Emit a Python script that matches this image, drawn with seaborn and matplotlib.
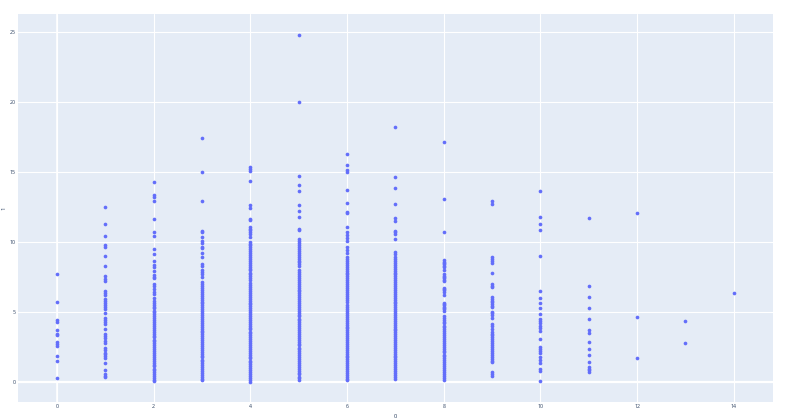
import pandas as pd
import matplotlib
matplotlib.use("Agg")
import matplotlib.pyplot as plt
import seaborn as sns

# valeurs y par colonne x
y_0 = [7.76, 5.71, 4.43, 4.33, 3.74, 3.43, 3.36, 2.86, 2.76, 2.61, 1.86, 1.54, 0.29]
y_1 = [12.54, 11.33, 10.45, 9.83, 9.64, 9.00, 8.31, 7.62, 7.36, 7.21, 6.52, 6.40, 6.26,
       5.95, 5.81, 5.69, 5.52, 5.36, 5.24, 4.98, 4.60, 4.45, 4.31, 4.17, 3.81, 3.45,
       3.29, 3.14, 2.98, 2.81, 2.43, 2.29, 2.12, 2.00, 1.86, 1.72, 1.36, 0.88, 0.62,
       0.48, 0.36]
y_2 = [14.31, 13.36, 13.26, 12.97, 11.64, 10.76, 10.45, 9.50, 9.19, 8.64, 8.40, 8.24,
       7.95, 7.69, 7.55, 7.43, 7.02, 6.88, 6.67, 6.48, 6.29, 6.00, 5.83, 5.69, 5.52,
       5.40, 5.27, 5.12, 4.99, 4.85, 4.71, 4.58, 4.43, 4.30, 4.16, 4.02, 3.89, 3.74,
       3.61, 3.47, 3.33, 3.20, 3.05, 2.92, 2.78, 2.64, 2.51, 2.36, 2.23, 2.09, 1.95,
       1.82, 1.67, 1.54, 1.40, 1.26, 1.13, 0.98, 0.85, 0.71, 0.57, 0.44, 0.30, 0.18,
       0.12]
y_3 = [17.43, 15.04, 12.95, 10.81, 10.71, 10.40, 10.12, 9.93, 9.69, 9.57, 9.21, 8.95,
       8.45, 8.33, 8.02, 7.90, 7.74, 7.55,
       7.14, 7.01, 6.87, 6.73, 6.60, 6.45, 6.32, 6.18, 6.04, 5.91, 5.76, 5.63, 5.49,
       5.35, 5.22, 5.07, 4.94, 4.80, 4.66, 4.53, 4.38, 4.25, 4.11, 3.97, 3.84, 3.69,
       3.56, 3.42, 3.28, 3.15, 3.00, 2.87, 2.73, 2.59, 2.46, 2.31, 2.18, 2.04, 1.90,
       1.77, 1.62, 1.49, 1.35, 1.21, 1.08, 0.93, 0.80, 0.66, 0.52, 0.39, 0.26, 0.16]
y_4 = [15.36, 15.26, 15.10, 14.36, 12.69, 12.43, 11.66, 11.57, 11.12, 10.98, 10.86,
       10.74, 10.60, 10.36,
       10.05, 9.91, 9.78, 9.64, 9.50, 9.37, 9.22, 9.09, 8.95, 8.81, 8.68, 8.53, 8.40,
       8.26, 8.12, 7.99, 7.84, 7.71, 7.57, 7.44, 7.31,
       7.07, 6.94, 6.80, 6.66, 6.53, 6.38, 6.25, 6.11, 5.97, 5.84, 5.69, 5.56, 5.42,
       5.28, 5.15, 5.00, 4.87, 4.73, 4.59, 4.46, 4.31, 4.18, 4.04, 3.90, 3.77, 3.62,
       3.49, 3.35, 3.21, 3.08, 2.93, 2.80, 2.66, 2.52, 2.39, 2.24, 2.11, 1.97, 1.83,
       1.70, 1.55, 1.42, 1.28, 1.14, 1.01, 0.86, 0.73, 0.59, 0.45, 0.32, 0.18, 0.05]
y_5 = [24.81, 20.04, 14.71, 14.11, 13.64, 12.66, 12.26, 11.81, 10.97, 10.85,
       10.21, 10.07, 9.94, 9.80, 9.66, 9.53, 9.38, 9.25, 9.11, 8.97, 8.84, 8.69, 8.56,
       8.42, 8.28, 8.00, 7.87, 7.73, 7.59, 7.46, 7.31, 7.18, 7.04, 6.90, 6.77, 6.62,
       6.49, 6.35, 6.21, 6.08, 5.93, 5.80, 5.66, 5.52, 5.39, 5.24, 5.11, 4.97, 4.83,
       4.70, 4.55, 4.42, 4.28, 4.14, 4.01, 3.86, 3.73, 3.59, 3.45, 3.32, 3.17, 3.04,
       2.90, 2.76, 2.63, 2.48, 2.35, 2.21, 2.07, 1.94, 1.79, 1.66, 1.52, 1.38, 1.25,
       1.10, 0.97, 0.83, 0.69, 0.56, 0.41, 0.28, 0.14]
y_6 = [16.33, 15.50, 15.14, 15.04, 13.71, 12.81, 12.14, 12.07, 11.07, 10.71, 10.52,
       10.33, 10.07, 9.69, 9.45, 9.21, 8.93,
       8.80, 8.66, 8.52, 8.39, 8.25, 8.11, 7.98, 7.83, 7.70, 7.56, 7.42, 7.29, 7.14,
       7.01, 6.87, 6.73, 6.60, 6.45, 6.32, 6.18, 6.04, 5.91, 5.76, 5.50, 5.36, 5.23,
       5.08, 4.95, 4.81, 4.67, 4.54, 4.39, 4.26, 4.12, 3.98, 3.85, 3.70, 3.57, 3.43,
       3.29, 3.16, 3.01, 2.88, 2.74, 2.60, 2.47, 2.32, 2.19, 2.05, 1.91, 1.78, 1.63,
       1.50, 1.36, 1.22, 1.09, 0.94, 0.81, 0.67, 0.53, 0.40, 0.26, 0.16]
y_7 = [18.24, 14.64, 13.88, 12.74, 11.74, 11.52, 10.81, 10.71, 10.56, 10.21, 9.29,
       9.14, 8.93,
       8.80, 8.67, 8.53, 8.39, 8.26, 8.11, 7.98, 7.84, 7.70, 7.57, 7.42, 7.29, 7.15,
       7.01, 6.88, 6.73, 6.60, 6.46, 6.32, 6.19, 6.04, 5.91, 5.77, 5.63, 5.50, 5.35,
       5.22, 5.08, 4.94, 4.81, 4.66, 4.53, 4.39, 4.25, 4.12, 3.97, 3.84, 3.70, 3.56,
       3.43, 3.28, 3.15, 3.01, 2.87, 2.74, 2.59, 2.46, 2.32, 2.18, 2.05, 1.90, 1.77,
       1.63, 1.49, 1.36, 1.21, 1.08, 0.94, 0.80, 0.67, 0.52, 0.39, 0.26]
y_8 = [17.14, 13.12, 10.71, 8.71, 8.62, 8.52, 8.43, 8.33, 8.24, 8.05, 7.71, 7.62,
       7.52, 7.43, 7.33, 7.24, 6.76, 6.67, 6.57, 6.48, 6.21, 5.69, 5.60, 5.50, 5.40,
       5.31, 5.21, 5.12,
       4.74, 4.61, 4.47, 4.33, 4.20, 4.05, 3.92, 3.78, 3.64, 3.51, 3.36, 3.23, 3.09,
       2.95, 2.82, 2.67, 2.54, 2.40, 2.26, 2.13, 1.98, 1.85, 1.71, 1.57, 1.44, 1.29,
       1.16, 1.02, 0.88, 0.75, 0.60, 0.47, 0.33, 0.16]
y_9 = [12.95, 12.71, 8.93, 8.79, 8.64, 8.50, 7.83, 7.02, 6.90, 6.79, 6.07, 5.95, 5.83,
       5.71, 5.60, 5.48, 5.36, 5.02, 4.93, 4.83, 4.60, 4.17, 4.05, 3.83, 3.57, 3.45,
       3.36, 3.26, 3.12, 2.98, 2.83, 2.69, 2.55, 2.40, 2.26, 2.12, 1.98, 1.83, 1.69,
       1.55, 1.43, 0.74, 0.62, 0.45]
y_10 = [13.66, 11.83, 11.29, 10.90, 9.05, 6.50, 6.05, 5.69, 5.29, 4.88, 4.55, 4.36,
        4.21, 4.05, 3.86, 3.67, 3.07, 2.55, 2.38, 2.21, 2.07, 1.79, 1.57, 1.36, 0.93,
        0.81, 0.09]
y_11 = [11.71, 6.86, 6.12, 5.31, 4.52, 3.76, 3.52, 2.88, 2.38, 1.97, 1.43, 1.09, 0.93,
        0.86, 0.71]
y_12 = [12.09, 4.66, 1.71]
y_13 = [4.40, 2.79]
y_14 = [6.36]

columns = [y_0, y_1, y_2, y_3, y_4, y_5, y_6, y_7, y_8, y_9, y_10, y_11, y_12, y_13, y_14]
x_labels = list(range(15))

df = pd.concat(
    [pd.DataFrame({"0": [x] * len(ys), "1": ys}) for x, ys in zip(x_labels, columns)],
    ignore_index=True,
)

sns.set_theme(style="darkgrid", rc={
    "axes.facecolor": "#E5ECF6",
    "grid.color": "white",
    "grid.linewidth": 0.8,
})
plt.rcParams["font.family"] = ["Open Sans", "DejaVu Sans"]

fig = plt.figure(figsize=(8, 4.2), dpi=100)
ax = fig.add_axes([18 / 800, 18 / 420, 755 / 800, 388 / 420])

sns.scatterplot(data=df, x="0", y="1", color="#636EFA", s=7, linewidth=0, ax=ax)

ax.set_xlim(-0.807, 14.81)
ax.set_ylim(-1.41, 26.31)
ax.set_xticks(range(0, 15, 2))
ax.set_yticks(range(0, 26, 5))
ax.axhline(0, color="white", linewidth=1.6, zorder=0.5)
ax.axvline(0, color="white", linewidth=1.2, zorder=0.5)
for s in ax.spines.values():
    s.set_visible(False)

ax.tick_params(axis="both", length=0, labelsize=3.8, labelcolor="#2a3f5f", pad=1.5)
ax.set_xlabel("0", fontsize=4.2, color="#2a3f5f")
ax.set_ylabel("1", fontsize=4.2, color="#2a3f5f", rotation=90)
ax.xaxis.set_label_coords(0.5, -0.031)
ax.yaxis.set_label_coords(-0.0150, 0.5)

fig.savefig("out.png", dpi=100)
